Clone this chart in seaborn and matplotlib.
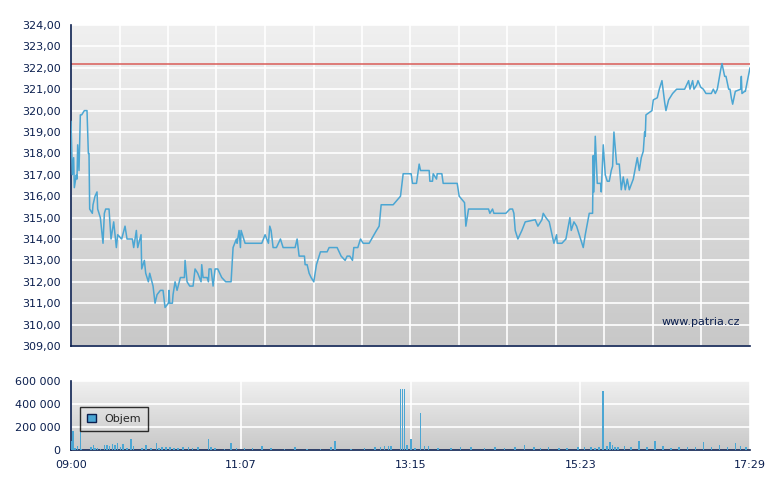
import numpy as np
import pandas as pd
import matplotlib
matplotlib.use("Agg")
import matplotlib.pyplot as plt
import seaborn as sns
from matplotlib.ticker import FuncFormatter, FixedLocator

sns.set_theme(style="white")
plt.rcParams['font.family'] = ['DejaVu Sans']

# price: minutes since 09:00, price
price_min = [0,1,2,2.5,4,4.5,5,6,7,8,10,12,13,13.5,14,16,16.5,18,19.5,20,22,24,25,26,28.5,30,32,34,35,38,40.5,42,46,47,49,50,52.5,53,55,56,58,59,61.5,63,64.5,67,69,70.5,73,73.5,74,76,76.5,78,79.5,82,85,85.5,87,89,91.5,93,95,97.5,98,99,102,103,103.5,105,106.5,108,110,113,116,120,121.5,124,124.5,126,127,127.5,130.5,134,143,145.5,148,149,150,151.5,154,157,159,168,169.5,171,175,175.5,177,178.5,180,182,184,187,192,193.5,199.5,202.5,205.5,207,209,211,212,215,217,219,223.5,229,231,232.5,241.5,247,249,255,256,259,260,261,262,268.5,269,271,271.5,274,274.5,278,279,289.5,291,295,296,298,313,314,316,317,326,329,331,332,333,335,338,340.5,348,350,353,354,356,358.5,362,364,364.5,368,371,374,375,377,379,382,384,385.5,388.5,391,391.5,392,393,394.5,397,397.5,399,400.5,402,403.5,405,406,407,409,411,412.5,414,415.5,417,418.5,421.5,424.5,426,427.5,429,430,430.5,431,435.5,436.5,439.5,441,443,445,446,448,451,454,457,460,463,464,466,467,469,470,472,474,476,480,481.5,483,484.5,487,488,490,491,493,494,495,496,498,502,502.5,503,505,505.5,509]
price_val = [319.5,317.0,317.8,316.4,317.0,316.8,318.4,317.2,319.8,319.8,320.0,320.0,318.0,318.0,315.4,315.2,315.6,316.0,316.2,315.4,315.0,313.8,315.2,315.4,315.4,314.0,314.8,313.6,314.2,314.0,314.6,314.0,314.0,313.6,314.4,313.6,314.2,312.6,313.0,312.4,312.0,312.4,311.8,311.0,311.4,311.6,311.6,310.8,311.0,311.6,311.0,311.0,311.4,312.0,311.6,312.2,312.2,313.0,312.0,311.8,311.8,312.6,312.4,312.0,312.8,312.2,312.2,312.0,312.6,312.6,311.8,312.6,312.6,312.2,312.0,312.0,313.6,314.0,313.8,314.4,313.6,314.4,313.8,313.8,313.8,314.2,313.8,314.6,314.4,313.6,313.6,314.0,313.6,313.6,314.0,313.2,313.2,312.8,312.8,312.4,312.2,312.0,312.8,313.4,313.4,313.6,313.6,313.2,313.0,313.2,313.2,313.0,313.6,313.6,314.0,313.8,313.8,314.4,314.6,315.6,315.6,316.0,317.05,317.05,316.6,316.6,317.05,317.5,317.2,317.2,316.7,316.7,317.05,316.8,317.05,317.05,316.6,316.6,316.0,315.7,314.6,315.4,315.4,315.2,315.4,315.2,315.2,315.4,315.4,315.2,314.4,314.0,314.4,314.8,314.9,314.6,314.9,315.2,315.0,314.8,313.8,314.2,313.8,313.8,314.0,315.0,314.4,314.8,314.6,314.0,313.6,314.2,315.2,315.2,317.9,316.2,318.8,316.6,316.6,316.2,318.4,317.0,316.7,316.7,317.2,317.4,319.0,317.5,317.5,316.3,316.9,316.3,316.8,316.3,316.8,317.8,317.2,317.8,318.1,319.0,318.8,319.8,320.0,320.5,320.6,321.0,321.4,320.4,320.0,320.5,320.8,321.0,321.0,321.0,321.4,321.0,321.4,321.0,321.2,321.4,321.1,321.0,320.8,320.8,321.0,320.8,321.0,321.9,322.2,321.6,321.6,321.0,321.0,320.6,320.3,320.9,321.0,321.6,320.8,320.9,320.9,322.0]
prev_close = 322.2

vol_min = [0,1.5,3,5,7,8,15,17,18,20,22,25,27,29,31,33,35,37,39,42,45,47,53,56,60,64,66,68,71,74,77,80,84,88,91,95,103,105,108,115,120,124,130,136,143,150,160,168,177,187,195,198,210,220,228,232,235,238,240,247,248.5,250,252,255,258,262,265,268,275,285,292,300,310,318,325,333,340,347,352,358,366,372,380,385,390,393,396,399,402,404,406,408,410,415,420,426,432,438,444,450,456,462,468,474,480,486,492,498,502,506]
vol_val = [75000,165000,15000,35000,160000,10000,25000,40000,20000,15000,10000,40000,45000,35000,50000,40000,60000,30000,55000,20000,95000,35000,20000,45000,15000,65000,20000,30000,25000,30000,20000,15000,25000,30000,20000,25000,100000,25000,15000,10000,65000,20000,15000,15000,35000,15000,10000,30000,10000,10000,25000,80000,10000,15000,30000,30000,35000,35000,35000,530000,530000,530000,45000,100000,15000,320000,35000,35000,20000,15000,25000,30000,20000,25000,20000,30000,45000,25000,20000,30000,15000,20000,30000,25000,30000,20000,25000,515000,35000,70000,45000,30000,25000,35000,30000,80000,25000,75000,35000,20000,25000,30000,25000,70000,25000,45000,30000,65000,35000,25000]

x_labels = ["09:00", "11:07", "13:15", "15:23", "17:29"]
x_label_pos = [0, 127.25, 254.5, 381.75, 509]

df_p = pd.DataFrame({"t": price_min, "p": price_val})
navy = "#0B1F4F"
blue = "#4BA6D3"

fig = plt.figure(figsize=(7.8, 4.9), dpi=100)
ax1 = fig.add_axes([71/780, 1-346/490, 679/780, 321/490])
ax2 = fig.add_axes([71/780, 1-450/490, 679/780, 69/490])

def gradient(ax):
    grad = np.linspace(0, 1, 256).reshape(-1, 1)
    ax.imshow(grad, extent=[0, 1, 0, 1], transform=ax.transAxes, aspect="auto",
              cmap=matplotlib.colors.LinearSegmentedColormap.from_list("g", ["#F0F0F0", "#C8C8C8"]),
              zorder=0)

for ax in (ax1, ax2):
    gradient(ax)
    for s in ("top", "right"):
        ax.spines[s].set_visible(False)
    for s in ("left", "bottom"):
        ax.spines[s].set_color(navy)
        ax.spines[s].set_linewidth(1.2)
    ax.tick_params(colors=navy, labelcolor=navy, labelsize=8, length=4, width=1, direction="out")
    ax.set_xlim(0, 509)

# price panel
ax1.set_ylim(309, 324)
ax1.yaxis.set_major_locator(FixedLocator(np.arange(309, 325, 1)))
ax1.yaxis.set_major_formatter(FuncFormatter(lambda v, p: f"{v:.2f}".replace(".", ",")))
ax1.xaxis.set_major_locator(FixedLocator(np.linspace(0, 509, 15)))
ax1.set_xticklabels([])
ax1.grid(True, color="white", linewidth=1.2, zorder=1)
ax1.axhline(prev_close, color="#D9534F", linewidth=1.3, alpha=0.8, zorder=2)
sns.lineplot(data=df_p, x="t", y="p", ax=ax1, color=blue, linewidth=1.1, zorder=3)
ax1.set_xlabel(""); ax1.set_ylabel("")
ax1.text(0.985, 0.06, "www.patria.cz", transform=ax1.transAxes, ha="right", va="bottom",
         color=navy, fontsize=8)

# volume panel
ax2.set_ylim(0, 600000)
ax2.yaxis.set_major_locator(FixedLocator([0, 200000, 400000, 600000]))
ax2.yaxis.set_major_formatter(FuncFormatter(lambda v, p: f"{int(v):,}".replace(",", " ")))
ax2.xaxis.set_major_locator(FixedLocator(x_label_pos))
ax2.set_xticklabels(x_labels)
ax2.grid(True, color="white", linewidth=1.2, zorder=1)
ax2.bar(vol_min, vol_val, width=1.2, color=blue, linewidth=0, edgecolor="none",
        antialiased=False, zorder=3)
leg = ax2.legend(handles=[matplotlib.patches.Patch(facecolor=blue, edgecolor=navy, label="Objem")],
                 loc="center left", bbox_to_anchor=(0.005, 0.45), frameon=True, fontsize=8,
                 handlelength=0.8, handleheight=0.8, fancybox=False, borderpad=0.6)
leg.get_frame().set_edgecolor("black")
leg.get_frame().set_facecolor("none")

fig.savefig("out.png", dpi=100)
